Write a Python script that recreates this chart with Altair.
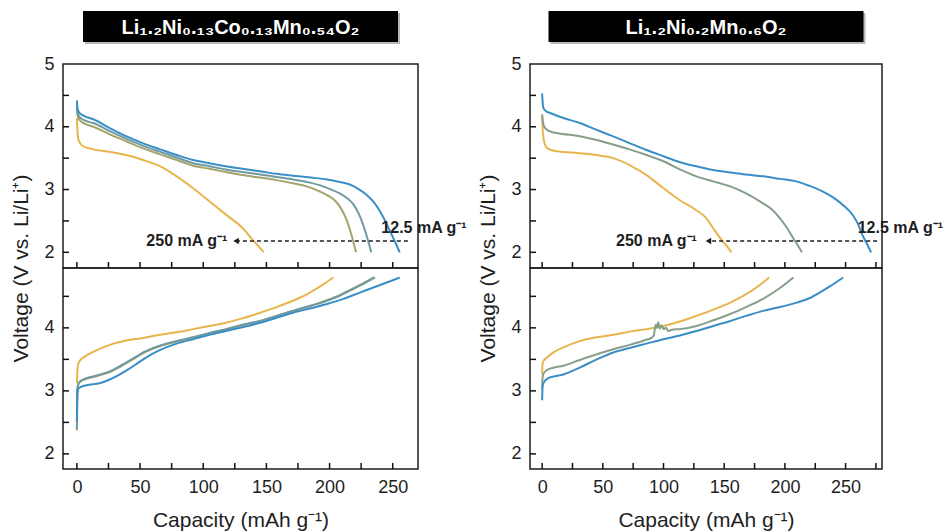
import altair as alt
import pandas as pd

FONT = "Liberation Sans"
INK = "#1e1e1e"

# ---- rate keys and line colours -------------------------------------------
RATES_L = ["250", "50", "25", "12.5"]
COLORS_L = ["#e8b54c", "#a4a46c", "#6f9aa3", "#3a8ec6"]
RATES_R = ["250", "25", "12.5"]
COLORS_R = ["#e8b54c", "#869e8a", "#3a8ec6"]

# ---- Li1.2Ni0.13Co0.13Mn0.54O2 : discharge (capacity mAh/g, voltage V) -----
ld_125_x = [0, 0.6, 2, 6, 13, 26, 39, 52, 66, 79, 92, 105, 118, 131, 145, 158, 171, 185, 198, 208, 216, 222, 229, 235, 240, 244, 248, 252, 255.5]
ld_125_y = [4.42, 4.28, 4.22, 4.17, 4.12, 3.98, 3.85, 3.74, 3.64, 3.55, 3.47, 3.42, 3.37, 3.33, 3.29, 3.25, 3.22, 3.19, 3.16, 3.12, 3.08, 3.02, 2.92, 2.80, 2.65, 2.50, 2.33, 2.16, 2.0]
ld_25_x = [0, 0.6, 2.4, 6, 13, 26, 39, 52, 66, 79, 92, 105, 118, 131, 145, 158, 171, 182, 192, 200, 208, 214, 219, 223, 226.5, 230, 233]
ld_25_y = [4.33, 4.22, 4.15, 4.10, 4.06, 3.93, 3.81, 3.70, 3.60, 3.51, 3.42, 3.37, 3.32, 3.28, 3.24, 3.20, 3.16, 3.12, 3.07, 3.01, 2.94, 2.86, 2.76, 2.62, 2.44, 2.22, 2.0]
ld_50_x = [0, 0.6, 2.4, 6, 13, 26, 39, 52, 66, 79, 92, 105, 118, 131, 145, 158, 171, 182, 192, 199, 205, 209, 213, 217, 221]
ld_50_y = [4.28, 4.17, 4.10, 4.05, 4.00, 3.88, 3.77, 3.66, 3.56, 3.47, 3.38, 3.33, 3.28, 3.23, 3.19, 3.15, 3.10, 3.05, 2.97, 2.90, 2.81, 2.70, 2.54, 2.30, 2.0]
ld_250_x = [0, 0.4, 1, 2.5, 5, 13, 26, 39, 52.5, 66, 79, 92, 105, 118, 131.5, 139.5, 144, 148]
ld_250_y = [4.14, 3.95, 3.82, 3.74, 3.69, 3.64, 3.60, 3.55, 3.47, 3.37, 3.21, 3.02, 2.81, 2.60, 2.38, 2.19, 2.09, 2.0]

# ---- Li1.2Ni0.13Co0.13Mn0.54O2 : charge --------------------------------------
lc_125_x = [0, 0.3, 1, 3, 7.7, 18, 26, 33, 39, 46, 52.5, 59, 66, 79, 92, 105, 118, 131, 145, 158, 171, 185, 198, 211, 224, 232, 240, 248, 255.5]
lc_125_y = [2.52, 2.95, 3.03, 3.06, 3.09, 3.12, 3.18, 3.25, 3.32, 3.41, 3.50, 3.58, 3.65, 3.75, 3.82, 3.89, 3.95, 4.01, 4.08, 4.16, 4.24, 4.31, 4.38, 4.46, 4.56, 4.62, 4.68, 4.74, 4.80]
lc_25_x = [0, 0.3, 1, 2.4, 6, 13, 20, 26, 33, 39, 46, 52.5, 59, 66, 79, 92, 105, 118, 131, 145, 158, 171, 185, 198, 208, 216, 226, 236]
lc_25_y = [2.40, 3.00, 3.10, 3.15, 3.19, 3.23, 3.27, 3.31, 3.38, 3.45, 3.53, 3.61, 3.67, 3.72, 3.79, 3.85, 3.92, 3.98, 4.05, 4.11, 4.19, 4.27, 4.35, 4.43, 4.51, 4.59, 4.69, 4.80]
lc_50_x = [0, 0.3, 1, 2.4, 6, 13, 20, 26, 33, 39, 46, 52.5, 59, 66, 79, 92, 105, 118, 131, 145, 158, 171, 185, 198, 208, 216, 226, 235]
lc_50_y = [2.37, 2.98, 3.09, 3.14, 3.18, 3.22, 3.26, 3.30, 3.37, 3.44, 3.52, 3.60, 3.66, 3.71, 3.78, 3.85, 3.91, 3.97, 4.04, 4.11, 4.19, 4.27, 4.35, 4.44, 4.52, 4.60, 4.70, 4.80]
lc_250_x = [0, 0.3, 1, 2.4, 6, 13, 26, 39, 52.5, 66, 79, 92, 105, 118, 131, 145, 158, 171, 180, 187, 195, 203]
lc_250_y = [3.12, 3.30, 3.42, 3.48, 3.54, 3.62, 3.73, 3.80, 3.84, 3.89, 3.93, 3.98, 4.03, 4.08, 4.15, 4.24, 4.33, 4.43, 4.51, 4.59, 4.69, 4.80]

# ---- Li1.2Ni0.2Mn0.6O2 : discharge -----------------------------------------
rd_125_x = [0, 0.4, 1, 3, 6.6, 17.5, 31, 45, 58, 72, 86, 100, 113, 127, 141, 155, 168, 182, 196, 209.5, 220, 231, 240, 248, 256, 260, 264, 268, 271]
rd_125_y = [4.53, 4.40, 4.30, 4.25, 4.22, 4.14, 4.06, 3.95, 3.85, 3.74, 3.63, 3.53, 3.44, 3.37, 3.31, 3.27, 3.24, 3.21, 3.17, 3.13, 3.06, 2.97, 2.87, 2.75, 2.59, 2.46, 2.27, 2.12, 2.0]
rd_25_x = [0, 0.5, 1.2, 2.5, 6, 12, 31, 45, 58, 72, 86, 100, 113.5, 127, 141, 155, 168, 182, 190, 196, 202, 207, 211, 214]
rd_25_y = [4.20, 4.10, 4.03, 3.98, 3.93, 3.90, 3.85, 3.79, 3.72, 3.64, 3.55, 3.45, 3.32, 3.21, 3.13, 3.05, 2.94, 2.78, 2.67, 2.54, 2.38, 2.22, 2.10, 2.0]
rd_250_x = [0, 0.3, 0.8, 2, 4, 12, 31, 45, 58.6, 72, 86, 100, 113.5, 127, 135, 141, 149, 153, 156]
rd_250_y = [4.17, 4.00, 3.87, 3.74, 3.66, 3.61, 3.58, 3.55, 3.50, 3.39, 3.23, 3.02, 2.83, 2.67, 2.55, 2.38, 2.17, 2.08, 2.0]

# ---- Li1.2Ni0.2Mn0.6O2 : charge --------------------------------------------
rc_125_x = [0, 0.3, 1, 4, 10, 17.5, 31, 45, 58.6, 72, 86, 100, 113.5, 127, 141, 155, 168, 182, 196, 209.5, 220, 228.6, 238, 248]
rc_125_y = [2.85, 3.05, 3.12, 3.19, 3.23, 3.26, 3.37, 3.50, 3.61, 3.68, 3.75, 3.82, 3.88, 3.95, 4.03, 4.11, 4.19, 4.27, 4.33, 4.40, 4.47, 4.56, 4.67, 4.80]
rc_25_x = [0, 0.3, 1, 4, 10, 17.5, 31, 45, 58.6, 72, 84, 90, 92, 93.5, 94.5, 95.6, 97, 98.5, 100, 102, 104, 107, 113.5, 127, 141, 155, 168, 182, 195, 207]
rc_25_y = [3.03, 3.20, 3.27, 3.33, 3.37, 3.40, 3.49, 3.58, 3.66, 3.73, 3.80, 3.84, 3.88, 4.05, 4.00, 4.09, 3.99, 4.04, 3.98, 4.00, 3.95, 3.97, 3.98, 4.03, 4.12, 4.22, 4.33, 4.46, 4.62, 4.80]
rc_250_x = [0, 0.3, 1, 4, 10, 17.5, 31, 45, 58.6, 72, 86, 100, 113.5, 127, 141, 155, 166, 176.5, 182, 187]
rc_250_y = [3.27, 3.42, 3.47, 3.53, 3.62, 3.69, 3.79, 3.85, 3.89, 3.94, 3.98, 4.03, 4.10, 4.19, 4.29, 4.40, 4.51, 4.64, 4.72, 4.80]

# ---- headers, axis ticks and rate annotations ------------------------------
HEADERS = ["Li\u2081.\u2082Ni\u2080.\u2081\u2083Co\u2080.\u2081\u2083Mn\u2080.\u2085\u2084O\u2082",
           "Li\u2081.\u2082Ni\u2080.\u2082Mn\u2080.\u2086O\u2082"]
X_LABELS = [0, 50, 100, 150, 200, 250]
Y_LABELS_TOP = [2, 3, 4, 5]
Y_LABELS_BOT = [2, 3, 4]
Y_TICKS_TOP = [2, 2.5, 3, 3.5, 4, 4.5]
Y_TICKS_BOT = [2, 2.5, 3, 3.5, 4, 4.5]
X_TICKS_L = [0, 25, 50, 75, 100, 125, 150, 175, 200, 225, 250]
X_TICKS_R = [0, 25, 50, 75, 100, 125, 150, 175, 200, 225, 250, 275]

ARROW_Y = 2.18
ARROW_L = [262, 126]      # dashed arrow from / to (capacity)
ARROW_R = [276, 137]
SLOW_LABEL = "12.5 mA g\u207b\u00b9"
FAST_LABEL = "250 mA g\u207b\u00b9"
SLOW_POS_L = [241, 2.38]
SLOW_POS_R = [260, 2.38]
FAST_POS_L = [119, 2.18]
FAST_POS_R = [127.5, 2.18]

Y_TITLE = "Voltage (V vs. Li/Li\u207a)"
X_TITLE = "Capacity (mAh g\u207b\u00b9)"

HEADER_W, HEADER_H, HEADER_GAP = 315, 31, 22
TICK_LEN = 6


def curves(series):
    rows = []
    for rate, xs, ys in series:
        for i, (x, y) in enumerate(zip(xs, ys)):
            rows.append({"rate": rate, "cap": x, "volt": y, "i": i})
    return pd.DataFrame(rows)


def header_layers(text, width):
    """Black title plate sitting above the upper panel."""
    x0 = (width - HEADER_W) / 2
    y0 = -(HEADER_GAP + HEADER_H)
    hdf = pd.DataFrame({"t": [text]})
    shadow = alt.Chart(hdf).mark_rect(color="#9a9a9a", opacity=0.7).encode(
        x=alt.value(x0 + 2), x2=alt.value(x0 + HEADER_W + 2),
        y=alt.value(y0 + 2), y2=alt.value(y0 + HEADER_H + 2))
    plate = alt.Chart(hdf).mark_rect(color="black").encode(
        x=alt.value(x0), x2=alt.value(x0 + HEADER_W),
        y=alt.value(y0), y2=alt.value(y0 + HEADER_H))
    label = alt.Chart(hdf).mark_text(
        font=FONT, fontSize=20, fontWeight="bold", color="white",
        align="center", baseline="middle").encode(
        text="t:N", x=alt.value(width / 2), y=alt.value(y0 + HEADER_H / 2 + 1))
    return [shadow, plate, label]


def inner_ticks(xticks, yticks, xs, ys, width, height):
    """Short ticks pointing into the frame from the bottom and left edges."""
    xt = alt.Chart(pd.DataFrame({"v": xticks})).mark_rule(color="#111111", strokeWidth=1.5).encode(
        x=alt.X("v:Q", scale=xs, axis=None),
        y=alt.value(height), y2=alt.value(height - TICK_LEN))
    yt = alt.Chart(pd.DataFrame({"v": yticks})).mark_rule(color="#111111", strokeWidth=1.5).encode(
        y=alt.Y("v:Q", scale=ys, axis=None),
        x=alt.value(0), x2=alt.value(TICK_LEN))
    return [xt, yt]


def panel(df, rates, colors, xdom, ydom, width, height, bottom,
          ylabels, yticks, xticks, arrow=None, head=None):
    xs = alt.Scale(domain=xdom, nice=False, zero=False)
    ys = alt.Scale(domain=ydom, nice=False, zero=False)

    if bottom:
        xaxis = alt.Axis(orient="bottom", values=X_LABELS, format="d", ticks=False,
                         domain=False, grid=False, labelFontSize=18, labelPadding=9,
                         labelFlush=False, title=X_TITLE, titleFontSize=21,
                         titleFontWeight="normal", titlePadding=13)
        yaxis = alt.Axis(orient="left", values=ylabels, format="d", ticks=False,
                         domain=False, grid=False, labelFontSize=18, labelPadding=9,
                         labelFlush=False, title=None)
    else:
        xaxis = None
        yaxis = alt.Axis(orient="left", values=ylabels, format="d", ticks=False,
                         domain=False, grid=False, labelFontSize=18, labelPadding=9,
                         labelFlush=False, title=Y_TITLE, titleFontSize=21,
                         titleFontWeight="normal", titlePadding=12, titleY=height)

    lines = alt.Chart(df).mark_line(strokeWidth=2, interpolate="monotone").encode(
        x=alt.X("cap:Q", scale=xs, axis=xaxis),
        y=alt.Y("volt:Q", scale=ys, axis=yaxis),
        color=alt.Color("rate:N", scale=alt.Scale(domain=rates, range=colors), legend=None),
        order=alt.Order("i:Q"),
    )

    layers = [lines] + inner_ticks(xticks, yticks, xs, ys, width, height)
    if arrow is not None:
        (x_from, x_to), slow_pos, fast_pos = arrow
        adf = pd.DataFrame({"x1": [x_from], "x2": [x_to], "y": [ARROW_Y]})
        rule = alt.Chart(adf).mark_rule(strokeDash=[4, 3], strokeWidth=1.3, color=INK).encode(
            x=alt.X("x1:Q", scale=xs, axis=None), x2="x2:Q",
            y=alt.Y("y:Q", scale=ys, axis=None))
        tip = alt.Chart(adf).mark_point(shape="triangle-left", filled=True, size=40,
                                         color=INK, opacity=1).encode(
            x=alt.X("x2:Q", scale=xs, axis=None), y=alt.Y("y:Q", scale=ys, axis=None))
        sdf = pd.DataFrame({"x": [slow_pos[0]], "y": [slow_pos[1]], "t": [SLOW_LABEL]})
        fdf = pd.DataFrame({"x": [fast_pos[0]], "y": [fast_pos[1]], "t": [FAST_LABEL]})
        slow = alt.Chart(sdf).mark_text(font=FONT, fontSize=16, fontWeight="bold",
                                        color=INK, align="left", baseline="middle").encode(
            x=alt.X("x:Q", scale=xs, axis=None), y=alt.Y("y:Q", scale=ys, axis=None), text="t:N")
        fast = alt.Chart(fdf).mark_text(font=FONT, fontSize=16, fontWeight="bold",
                                        color=INK, align="right", baseline="middle").encode(
            x=alt.X("x:Q", scale=xs, axis=None), y=alt.Y("y:Q", scale=ys, axis=None), text="t:N")
        layers += [rule, tip, slow, fast]
    if head is not None:
        layers += header_layers(head, width)

    return alt.layer(*layers).resolve_axis(x="independent", y="independent").properties(
        width=width, height=height)


left_dis = curves([("250", ld_250_x, ld_250_y), ("50", ld_50_x, ld_50_y),
                   ("25", ld_25_x, ld_25_y), ("12.5", ld_125_x, ld_125_y)])
left_chg = curves([("250", lc_250_x, lc_250_y), ("50", lc_50_x, lc_50_y),
                   ("25", lc_25_x, lc_25_y), ("12.5", lc_125_x, lc_125_y)])
right_dis = curves([("250", rd_250_x, rd_250_y), ("25", rd_25_x, rd_25_y),
                    ("12.5", rd_125_x, rd_125_y)])
right_chg = curves([("250", rc_250_x, rc_250_y), ("25", rc_25_x, rc_25_y),
                    ("12.5", rc_125_x, rc_125_y)])

XDOM_L = [-11, 270]
XDOM_R = [-10, 280]
YDOM_TOP = [1.75, 5.0]
YDOM_BOT = [1.76, 4.95]

chart = alt.concat(
    panel(left_dis, RATES_L, COLORS_L, XDOM_L, YDOM_TOP, 355, 204, False,
          Y_LABELS_TOP, Y_TICKS_TOP, X_TICKS_L, (ARROW_L, SLOW_POS_L, FAST_POS_L), HEADERS[0]),
    panel(right_dis, RATES_R, COLORS_R, XDOM_R, YDOM_TOP, 352, 204, False,
          Y_LABELS_TOP, Y_TICKS_TOP, X_TICKS_R, (ARROW_R, SLOW_POS_R, FAST_POS_R), HEADERS[1]),
    panel(left_chg, RATES_L, COLORS_L, XDOM_L, YDOM_BOT, 355, 201, True,
          Y_LABELS_BOT, Y_TICKS_BOT, X_TICKS_L),
    panel(right_chg, RATES_R, COLORS_R, XDOM_R, YDOM_BOT, 352, 201, True,
          Y_LABELS_BOT, Y_TICKS_BOT, X_TICKS_R),
    columns=2, spacing={"row": 0, "column": 112}, bounds="flush",
).resolve_scale(
    color="independent"
).properties(
    padding={"left": 10, "top": 10, "right": 2, "bottom": 0},
    background="white",
).configure_view(
    stroke=INK, strokeWidth=1.5
).configure_axis(
    labelFont=FONT, titleFont=FONT, labelColor=INK, titleColor=INK
)

chart.save("out.html", embed_options={"renderer": "svg", "actions": False})
